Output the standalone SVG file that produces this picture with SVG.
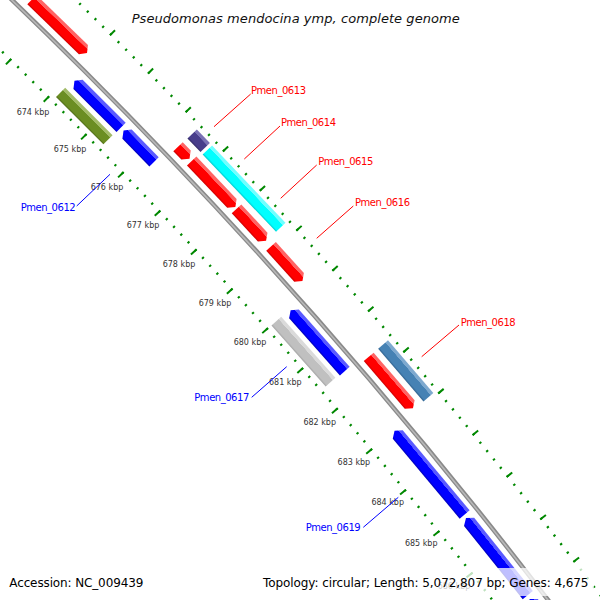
<svg xmlns="http://www.w3.org/2000/svg" width="600" height="600" viewBox="0 0 600 600">
<defs>
<style>
text{font-family:"DejaVu Sans","Liberation Sans",sans-serif}
.title{font-size:13px;font-style:italic;fill:#111}
.kbp{font-size:8px;fill:#333;text-anchor:middle}
.lab{font-size:10px}
.tf{fill:#f00}
.tr{fill:#00f}
.lf{stroke:#f00;stroke-width:1;fill:none}
.lr{stroke:#00f;stroke-width:1;fill:none}
.legend{font-size:12px;fill:#000}
.tick{fill:none;stroke:#080}
.red{fill:url(#gRed)}
.blue{fill:url(#gBlue)}
.cyan{fill:url(#gCyan)}
.navy{fill:url(#gNavy)}
.steel{fill:url(#gSteel)}
.olive{fill:url(#gOlive)}
.gray{fill:url(#gGray)}
</style>
<linearGradient id="gRed" x1="0" y1="0" x2="1" y2="0"><stop offset="0" stop-color="#c80000"/><stop offset="0.15" stop-color="#ff0000"/><stop offset="0.72" stop-color="#ff0000"/><stop offset="0.74" stop-color="#ff6464"/><stop offset="1" stop-color="#ff6464"/></linearGradient>
<linearGradient id="gBlue" x1="0" y1="0" x2="1" y2="0"><stop offset="0" stop-color="#0000b4"/><stop offset="0.15" stop-color="#0000ff"/><stop offset="0.72" stop-color="#0000ff"/><stop offset="0.74" stop-color="#5a5aff"/><stop offset="1" stop-color="#5a5aff"/></linearGradient>
<linearGradient id="gCyan" x1="0" y1="0" x2="1" y2="0"><stop offset="0" stop-color="#00cccc"/><stop offset="0.15" stop-color="#00ffff"/><stop offset="0.72" stop-color="#00ffff"/><stop offset="0.74" stop-color="#70ffff"/><stop offset="1" stop-color="#70ffff"/></linearGradient>
<linearGradient id="gNavy" x1="0" y1="0" x2="1" y2="0"><stop offset="0" stop-color="#322a66"/><stop offset="0.15" stop-color="#483d8b"/><stop offset="0.72" stop-color="#483d8b"/><stop offset="0.74" stop-color="#7a71b4"/><stop offset="1" stop-color="#7a71b4"/></linearGradient>
<linearGradient id="gSteel" x1="0" y1="0" x2="1" y2="0"><stop offset="0" stop-color="#30628e"/><stop offset="0.15" stop-color="#4682b4"/><stop offset="0.72" stop-color="#4682b4"/><stop offset="0.74" stop-color="#7ea9cf"/><stop offset="1" stop-color="#7ea9cf"/></linearGradient>
<linearGradient id="gOlive" x1="0" y1="0" x2="1" y2="0"><stop offset="0" stop-color="#506c18"/><stop offset="0.15" stop-color="#6b8e23"/><stop offset="0.72" stop-color="#6b8e23"/><stop offset="0.74" stop-color="#a2bb68"/><stop offset="1" stop-color="#a2bb68"/></linearGradient>
<linearGradient id="gGray" x1="0" y1="0" x2="1" y2="0"><stop offset="0" stop-color="#a4a4a4"/><stop offset="0.15" stop-color="#c0c0c0"/><stop offset="0.72" stop-color="#c0c0c0"/><stop offset="0.74" stop-color="#dadada"/><stop offset="1" stop-color="#dadada"/></linearGradient>
</defs>
<rect width="600" height="600" fill="#fff"/>

<g id="rings" transform="translate(-3693 3849)">
  <circle class="tick" r="5298.5" stroke-width="2.5" stroke-dasharray="2 8.626" transform="rotate(-47.389)"/>
  <circle class="tick" r="5295.75" stroke-width="7.5" stroke-dasharray="2 51.1" transform="rotate(-47.389)"/>
  <circle class="tick" r="5387" stroke-width="2.5" stroke-dasharray="2 8.803" transform="rotate(-47.389)"/>
  <circle class="tick" r="5389.5" stroke-width="7" stroke-dasharray="2 52.04" transform="rotate(-47.389)"/>
  <circle id="backbone" r="5342.5" fill="none" stroke="#8a8a8a" stroke-width="4.5"/>
  <circle r="5342.3" fill="none" stroke="#b8b8b8" stroke-width="1.6"/>
</g>

<g id="kbp-labels">
  <text class="kbp" x="33" y="114.5">674 kbp</text>
  <text class="kbp" x="70" y="152.2">675 kbp</text>
  <text class="kbp" x="107" y="190.2">676 kbp</text>
  <text class="kbp" x="143" y="228.3">677 kbp</text>
  <text class="kbp" x="179" y="267.2">678 kbp</text>
  <text class="kbp" x="215" y="306.2">679 kbp</text>
  <text class="kbp" x="250" y="345.4">680 kbp</text>
  <text class="kbp" x="285.3" y="385.3">681 kbp</text>
  <text class="kbp" x="319.7" y="425.3">682 kbp</text>
  <text class="kbp" x="353.9" y="465.3">683 kbp</text>
  <text class="kbp" x="387.7" y="505.3">684 kbp</text>
  <text class="kbp" x="421.2" y="546.3">685 kbp</text>
  <text class="kbp" x="454" y="588.5">686 kbp</text>
</g>

<g id="gene-r1"><polygon class="red" transform="translate(-3693 3849) rotate(-45.942)" points="5350,0 5363,0 5363,71.8 5356.5,76.8 5350,71.8"/></g>
<g id="Pmen_0613"><polygon class="red" transform="translate(-3693 3849) rotate(-43.724)" points="5350,0 5363,0 5363,11.6 5356.5,16.6 5350,11.6"/></g>
<g id="gene-n1"><rect class="navy" transform="translate(-3693 3849) rotate(-43.718)" x="5369" y="0" width="13" height="18.9"/></g>
<g id="Pmen_0614"><polygon class="red" transform="translate(-3693 3849) rotate(-43.512)" points="5350,0 5363,0 5363,58.4 5356.5,63.4 5350,58.4"/></g>
<g id="gene-c1"><rect class="cyan" transform="translate(-3693 3849) rotate(-43.483)" x="5369" y="0" width="13" height="106.7"/></g>
<g id="Pmen_0615"><polygon class="red" transform="translate(-3693 3849) rotate(-42.811)" points="5350,0 5363,0 5363,38.5 5356.5,43.5 5350,38.5"/></g>
<g id="Pmen_0616"><polygon class="red" transform="translate(-3693 3849) rotate(-42.265)" points="5350,0 5363,0 5363,41.7 5356.5,46.7 5350,41.7"/></g>
<g id="Pmen_0618"><polygon class="red" transform="translate(-3693 3849) rotate(-40.688)" points="5350,0 5363,0 5363,62.9 5356.5,67.9 5350,62.9"/></g>
<g id="gene-s1"><rect class="steel" transform="translate(-3693 3849) rotate(-40.688)" x="5369" y="0" width="13" height="69.5"/></g>

<g id="gene-b1"><polygon class="blue" transform="translate(-3693 3849) rotate(-45.005)" points="5328.5,0 5335,5 5335,65.9 5322,65.9 5322,5"/></g>
<g id="Pmen_0612"><polygon class="blue" transform="translate(-3693 3849) rotate(-44.254)" points="5328.5,0 5335,5 5335,43.7 5322,43.7 5322,5"/></g>
<g id="Pmen_0617"><polygon class="blue" transform="translate(-3693 3849) rotate(-41.616)" points="5328.5,0 5335,5 5335,81.5 5322,81.5 5322,5"/></g>
<g id="Pmen_0619"><polygon class="blue" transform="translate(-3693 3849) rotate(-39.905)" points="5328.5,0 5335,5 5335,109.3 5322,109.3 5322,5"/></g>
<g id="gene-b5"><polygon class="blue" transform="translate(-3693 3849) rotate(-38.692)" points="5328.5,0 5335,5 5335,98.8 5322,98.8 5322,5"/></g>
<g id="gene-b6"><polygon class="blue" transform="translate(-3693 3849) rotate(-37.583)" points="5328.5,0 5335,5 5335,80 5322,80 5322,5"/></g>
<g id="gene-o1"><rect class="olive" transform="translate(-3693 3849) rotate(-45.023)" x="5304" y="0" width="13" height="67"/></g>
<g id="gene-g1"><rect class="gray" transform="translate(-3693 3849) rotate(-41.630)" x="5304" y="0" width="13" height="81.6"/></g>

<g id="connectors">
  <line class="lf" x1="250.7" y1="94" x2="214" y2="126.7"/>
  <line class="lf" x1="280" y1="126" x2="244.3" y2="159"/>
  <line class="lf" x1="316.7" y1="165" x2="280.7" y2="198.3"/>
  <line class="lf" x1="353.3" y1="206" x2="316.7" y2="238.3"/>
  <line class="lf" x1="459" y1="325" x2="421.7" y2="356.7"/>
  <line class="lr" x1="76.7" y1="206" x2="110" y2="174.3"/>
  <line class="lr" x1="251.7" y1="397.3" x2="286.7" y2="366.7"/>
  <line class="lr" x1="363.3" y1="527.3" x2="398.3" y2="497.3"/>
</g>

<g id="gene-labels">
  <text class="lab tf" x="251" y="94.3" textLength="55">Pmen_0613</text>
  <text class="lab tf" x="281" y="126" textLength="55">Pmen_0614</text>
  <text class="lab tf" x="318.3" y="165.3" textLength="55">Pmen_0615</text>
  <text class="lab tf" x="355" y="205.7" textLength="55">Pmen_0616</text>
  <text class="lab tf" x="460.7" y="326" textLength="55">Pmen_0618</text>
  <text class="lab tr" x="20.7" y="211" textLength="55">Pmen_0612</text>
  <text class="lab tr" x="194.3" y="401.3" textLength="55">Pmen_0617</text>
  <text class="lab tr" x="305.7" y="531.3" textLength="55">Pmen_0619</text>
</g>

<text class="title" x="131.7" y="22.7" textLength="328">Pseudomonas mendocina ymp, complete genome</text>
<text class="legend" x="9.3" y="586.7" textLength="134">Accession: NC_009439</text>
<rect x="258" y="568" width="336" height="28" fill="#fff" fill-opacity="0.75"/>
<text class="legend" x="263" y="586.7" textLength="325.5">Topology: circular; Length: 5,072,807 bp; Genes: 4,675</text>
</svg>
